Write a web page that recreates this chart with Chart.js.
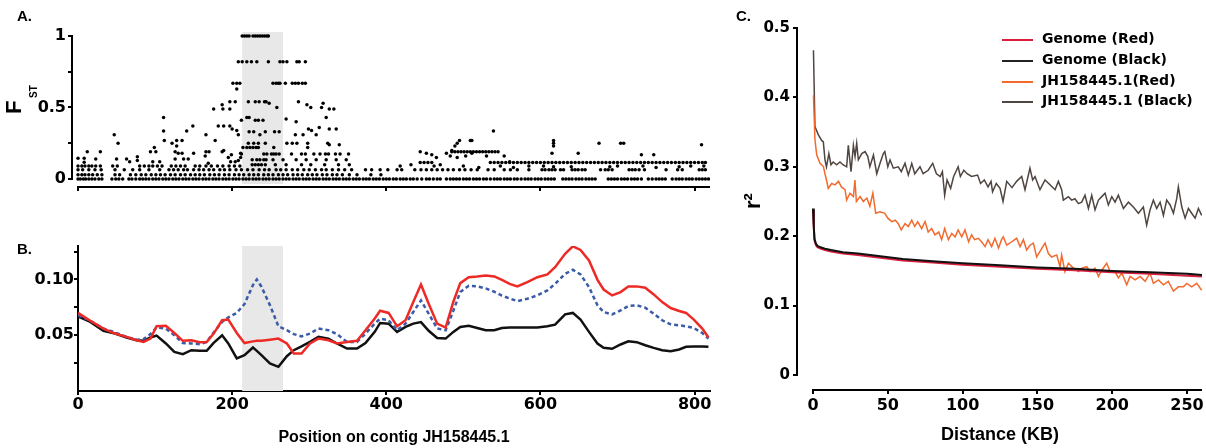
<!DOCTYPE html>
<html lang="en">
<head>
<meta charset="utf-8"/>
<title>Fst, pi and LD decay on contig JH158445.1</title>
<script src="https://cdn.jsdelivr.net/npm/chart.js@4.4.0/dist/chart.umd.min.js"></script>
<style>
  body { margin: 0; background: #fff; width: 1206px; height: 448px; position: relative; overflow: hidden; font-family: "Liberation Sans", Arial, sans-serif; }
  canvas { position: absolute; }
  #chartA { left: 0; top: 0; }
  #chartB { left: 0; top: 220px; }
  #chartC { left: 740px; top: 0; }
  .tag { position: absolute; font-weight: bold; font-size: 15px; line-height: 15px; }
  .leg { position: absolute; left: 1002px; width: 200px; height: 20px; }
  .leg i { position: absolute; left: 0; top: 9px; width: 31px; height: 2px; }
  .leg span { position: absolute; left: 40px; top: 0; line-height: 20px; white-space: nowrap; font: bold 14px "DejaVu Sans", sans-serif; }
</style>
</head>
<body>
<canvas id="chartA" width="730" height="200"></canvas>
<canvas id="chartB" width="730" height="228"></canvas>
<canvas id="chartC" width="466" height="448"></canvas>

<div class="tag" style="left:17px; top:8px">A.</div>
<div class="tag" style="left:17px; top:241px">B.</div>
<div class="tag" style="left:736px; top:8px">C.</div>

<div class="leg" style="top:30px"><i style="background:#d91f3d"></i><span>Genome (Red)</span></div>
<div class="leg" style="top:51px"><i style="background:#222"></i><span>Genome (Black)</span></div>
<div class="leg" style="top:72px"><i style="background:#f36a2d"></i><span>JH158445.1(Red)</span></div>
<div class="leg" style="top:92px"><i style="background:#4f4541"></i><span>JH158445.1 (Black)</span></div>

<script>
// ---- panel A : Fst along the contig (KB) ----
const fstZeroX = [0,3,7,10,14,18,22,27,31,44,49,53,58,66,70,75,80,84,88,92,97,101,105,110,114,118,123,127,131,136,140,144,149,153,157,162,166,170,175,179,183,188,192,196,201,205,209,214,218,222,227,231,235,240,244,248,253,257,261,266,270,274,279,283,287,292,296,300,305,309,313,318,322,326,331,335,339,344,348,352,357,361,365,370,374,378,383,387,391,396,400,404,409,413,418,422,426,431,435,440,446,452,456,461,466,470,478,483,487,491,495,500,504,508,513,517,521,526,530,535,540,544,548,553,557,561,566,570,575,580,584,588,593,597,601,606,610,614,618,629,633,637,641,646,650,654,659,663,667,671,688,692,696,700,705,709,713,718,722,726,731,740,745,750,754,758,762,771,776,780,784,789,793,797,802,806,810,814,818];
const fstLowX = [0,5,9,14,19,25,31,48,54,68,75,82,88,95,101,107,113,120,126,133,139,146,152,158,164,171,177,183,190,196,203,209,215,222,228,234,241,247,253,260,266,272,279,285,291,298,304,310,317,323,330,336,343,352,362,380,393];
const fstMidX = [0,6,14,22,30,48,60,71,80,92,106,118,124,130,137,142,150,157,163,170,176,184,190,197,205,212,220,227,235,242,248,257,263,270,278,285,293,300,308,316,322,330,338,346,355,373,381,392,402,414,420,437,445,452,459,466,473,480,487,495,502,510,518,532,540,553,561,570,585,602,606,611,615,619,626,630,641,645,649,654,658,678,684,688,693,715,719,723,728,735,763,778,784,806,810,814];
const fstNineX = [0,5,9,14,18,23,29,45,51,80,86,92,97,103,109,121,127,133,139,152,158,166,173,181,188,196,203,210];
const fstBandX = [444,449,454,459,535,540,545,550,555,560,565,570,575,580,585,590,595,600,605,610,615,620,625,630,635,640,645,650,655,660,665,670,675,680,685,690,695,700,705,710,715,720,725,730,735,740,745,750,755,760,765,770,775,780,785,790,795,800,805,810,814];
const fstBand2X = [485,489,493,497,501,505,509,513,517,521,525,529,533,537,541,545];
const fstPeak = [[111,0.43],[111,0.335],[47,0.31],[141,0.335],[149,0.37],[166,0.31],[176,0.49],[187,0.52],[188,0.49],[197,0.54],[204,0.54],[197,0.49],[182,0.37],[189,0.37],[197,0.37],[200,0.35],[206,0.34],[208,0.31],[212,0.41],
  [213,1],[216,1],[219,1],[222,1],[227,1],[230,1],[233,1],[236,1],[239,1],[242,1],[245,1],[247,1],
  [208,0.82],[213,0.82],[219,0.82],[225,0.82],[232,0.82],[247,0.82],[262,0.82],[266,0.82],[271,0.82],[284,0.82],[287,0.82],[295,0.82],
  [201,0.67],[206,0.67],[210,0.67],[253,0.67],[257,0.67],[260,0.67],[262,0.67],[269,0.67],[278,0.67],[282,0.67],[286,0.67],[291,0.67],[295,0.67],[206,0.63],
  [221,0.54],[230,0.54],[235,0.54],[242,0.54],[244,0.54],[248,0.53],[258,0.5],[286,0.54],[297,0.52],[302,0.5],[316,0.5],[318,0.53],[326,0.49],[332,0.49],
  [219,0.43],[222,0.43],[230,0.41],[234,0.41],[240,0.41],[270,0.42],[283,0.4],[322,0.43],
  [222,0.33],[228,0.33],[236,0.31],[243,0.33],[255,0.33],[261,0.33],[282,0.31],[292,0.31],[299,0.35],[303,0.34],[313,0.36],[326,0.35],[335,0.35],[309,0.31],[539,0.335]];
const fstScatter = [[112,0.27],[52,0.25],[12,0.19],[29,0.19],[0,0.145],[8,0.145],[8,0.117],[23,0.14],[50,0.14],[63,0.14],[67,0.12],[77,0.155],[77,0.13],[99,0.22],[94,0.19],[101,0.19],[97,0.12],[106,0.12],[122,0.25],[128,0.27],[135,0.27],[128,0.23],[126,0.19],[130,0.18],[135,0.18],[126,0.14],[137,0.14],[143,0.14],[150,0.18],[178,0.27],[166,0.19],[170,0.19],[165,0.16],[169,0.11],[187,0.19],[189,0.2],[195,0.15],[199,0.17],[204,0.12],[198,0.12],[211,0.18],[211,0.15],[208,0.13],
  [221,0.25],[228,0.25],[234,0.25],[243,0.25],[271,0.25],[278,0.25],[284,0.25],[298,0.25],[324,0.25],[326,0.24],[339,0.24],[254,0.22],[298,0.22],
  [214,0.22],[219,0.22],[223,0.22],[227,0.22],[231,0.22],[234,0.22],
  [212,0.175],[241,0.175],[245,0.175],[251,0.175],[254,0.175],[257,0.175],[261,0.175],[277,0.175],[290,0.175],[295,0.175],[306,0.175],[314,0.175],[321,0.175],[325,0.175],[334,0.175],[340,0.175],[351,0.175],
  [226,0.135],[232,0.135],[236,0.135],[241,0.135],[244,0.135],[253,0.135],[266,0.135],[283,0.135],[296,0.135],[309,0.135],[322,0.135],[335,0.135],[348,0.135],
  [226,0.1],[230,0.1],[234,0.1],[238,0.1],[243,0.1],[256,0.1],[270,0.1],[290,0.1],[302,0.1],[320,0.1],[338,0.1],[352,0.1],
  [509,0.27],[511,0.27],[495,0.27],[492,0.25],[489,0.23],[485,0.2],[444,0.19],[452,0.18],[459,0.17],[465,0.15],[478,0.18],[483,0.16],[492,0.15],[503,0.16],[511,0.18],[530,0.16],[553,0.16],[560,0.12],[617,0.27],[617,0.25],[617,0.23],[615,0.18],[649,0.18],[676,0.25],[704,0.25],[708,0.25],[731,0.17],[747,0.17],[809,0.24],
  [418,0.09],[432,0.1],[462,0.09],[470,0.1],[500,0.09],[520,0.08],[548,0.09],[565,0.08],[585,0.09],[604,0.09],[617,0.085],[640,0.085],[690,0.085],[700,0.09],[733,0.09],[750,0.08],[780,0.085],[795,0.09],[812,0.09]];
const fstTicks = [0, 0.25, 0.5, 0.75, 1];
const fstTickLabels = ['0', '', '0.5', '', '1'];

// ---- panel B : nucleotide diversity ----
const piX = [0,16,33,48,63,76,85,94,102,114,125,136,147,158,167,176,187,195,206,216,227,232,238,249,260,271,280,290,301,312,325,336,349,362,373,385,392,403,414,425,435,445,455,466,477,487,496,507,518,529,540,550,560,570,583,596,609,619,632,642,652,663,674,682,693,704,714,725,736,747,758,769,780,789,799,810,818];
const piRed = [0.070,0.063,0.056,0.0515,0.0485,0.0455,0.044,0.047,0.058,0.0585,0.052,0.045,0.0455,0.0438,0.044,0.0515,0.0634,0.064,0.052,0.043,0.0445,0.045,0.045,0.046,0.047,0.0426,0.0336,0.0336,0.0426,0.047,0.0455,0.0426,0.044,0.045,0.0545,0.065,0.072,0.070,0.058,0.0634,0.0797,0.0955,0.0783,0.0604,0.0569,0.080,0.0967,0.102,0.1027,0.1036,0.1027,0.0997,0.096,0.0938,0.0976,0.102,0.1045,0.111,0.123,0.1297,0.1265,0.117,0.0997,0.091,0.0857,0.0887,0.0938,0.0938,0.0926,0.0866,0.0797,0.0744,0.0717,0.070,0.064,0.056,0.048];
const piAll = [0.068,0.063,0.056,0.0525,0.0485,0.046,0.0465,0.051,0.057,0.056,0.050,0.043,0.0426,0.042,0.044,0.0525,0.062,0.066,0.070,0.078,0.095,0.100,0.0935,0.077,0.058,0.0545,0.051,0.049,0.0515,0.056,0.0545,0.051,0.044,0.044,0.0515,0.0604,0.0649,0.0634,0.0545,0.0604,0.0708,0.0812,0.0693,0.056,0.0545,0.072,0.0887,0.0944,0.0938,0.092,0.089,0.0855,0.083,0.0806,0.0827,0.0857,0.0902,0.0961,0.105,0.1087,0.1045,0.0932,0.0768,0.0708,0.0687,0.0723,0.0762,0.0768,0.0747,0.0693,0.0634,0.0598,0.0589,0.058,0.0565,0.052,0.047];
const piBlack = [0.067,0.062,0.054,0.0515,0.048,0.0455,0.045,0.048,0.0497,0.0426,0.0351,0.033,0.0366,0.036,0.036,0.0432,0.050,0.0426,0.0292,0.0321,0.039,0.036,0.0321,0.0247,0.0217,0.0312,0.0366,0.040,0.044,0.0485,0.047,0.0426,0.038,0.038,0.043,0.053,0.061,0.0604,0.053,0.0574,0.0604,0.0618,0.054,0.0475,0.047,0.053,0.0574,0.0584,0.0565,0.0545,0.0545,0.0565,0.057,0.057,0.057,0.057,0.058,0.0595,0.0687,0.070,0.064,0.053,0.0426,0.0387,0.0378,0.0417,0.0446,0.0438,0.041,0.0387,0.0366,0.0357,0.0372,0.0396,0.040,0.040,0.0396];
const posTicks = [0, 200, 400, 600, 800];
const piTicks = [0.025, 0.05, 0.075, 0.1, 0.125];
const piTickLabels = ['', '0.05', '', '0.10', ''];
const sweepStart = 213, sweepEnd = 266;

// ---- panel C : LD decay ----
const genomeKB = [0,0.5,1,2,3,5,8,12,20,30,45,60,80,100,125,150,175,200,225,250,260];
const genomeBlackR2 = [0.24,0.215,0.196,0.189,0.186,0.184,0.182,0.180,0.177,0.175,0.171,0.167,0.164,0.161,0.158,0.155,0.153,0.150,0.148,0.146,0.144];
const genomeRedR2 = [0.238,0.213,0.194,0.187,0.184,0.182,0.180,0.178,0.175,0.173,0.169,0.165,0.162,0.159,0.156,0.153,0.151,0.148,0.146,0.143,0.142];
const jhBlackKB = [0.3,1.3,3.6,5.8,6.9,8,9,10.6,12,13.5,15.8,18,20,22.5,23.6,25.4,27,28.1,29.2,30.3,32.6,34.8,36.6,38,40.4,42.6,44.8,47,48,50,51.5,53.7,57,59,61.5,63.7,66,68,71.5,73.6,77,80,82.5,85,86.5,88,89.6,92,94,97,98.5,100.8,103,106,110,112,114.5,117,119,120,122.5,125,127,129.5,133,136.1,139.5,141.7,145,146.8,148.4,151.7,155.1,158.4,161.8,164,166.2,167.3,170.7,172.9,175.1,177.4,179.6,181.8,184.1,186.3,188.5,190.8,193,195.2,197.4,199.7,201.9,204.1,207.5,210.8,214.1,217.5,220.8,223,225.3,227.5,229.7,232,234.2,236.4,238.7,240.9,243.1,244.2,246.5,248.7,250.9,253.1,255.4,257.6,259.8];
const jhBlackR2 = [0.468,0.358,0.346,0.338,0.336,0.31,0.30,0.319,0.303,0.307,0.303,0.307,0.303,0.30,0.331,0.293,0.331,0.315,0.334,0.31,0.319,0.322,0.315,0.30,0.317,0.29,0.305,0.319,0.322,0.30,0.31,0.298,0.30,0.293,0.305,0.288,0.305,0.29,0.30,0.29,0.295,0.305,0.29,0.286,0.293,0.259,0.281,0.269,0.286,0.30,0.286,0.295,0.29,0.286,0.288,0.276,0.281,0.271,0.279,0.264,0.276,0.269,0.25,0.279,0.27,0.279,0.286,0.267,0.298,0.281,0.286,0.267,0.281,0.274,0.267,0.279,0.267,0.252,0.257,0.252,0.254,0.247,0.249,0.259,0.24,0.259,0.238,0.252,0.257,0.262,0.245,0.257,0.249,0.259,0.24,0.249,0.242,0.233,0.242,0.216,0.238,0.252,0.24,0.249,0.23,0.252,0.245,0.233,0.254,0.271,0.242,0.226,0.24,0.233,0.226,0.24,0.23];
const jhRedKB = [0.3,1.3,2.5,4.7,7,8,9,10.2,12.5,14.7,17,19,21.4,22.5,24.7,27,28,29,31.5,33.6,36,38,40,41.9,44.8,48,50,52.6,55,57,59,61.5,63.7,66,68,70,72.6,74.9,77,79.3,81.5,84,86,88,90.5,92.7,95,97,99.4,101.6,104,106,108,110.5,112.7,115,117,119.4,121.6,124,126,127.2,129.5,132.8,136.1,138.4,140.6,142.8,145,147.3,149.5,151.7,155.1,157.3,159.5,162.9,165.1,166.2,168.4,170.7,174,177.4,179.6,183,185.2,188.5,190.8,193,196.3,198.6,201.9,204.1,206.4,209.7,211.9,215.3,218.6,222,225.3,227.5,230.9,234.2,237.5,240.9,244.2,247.6,249.8,253.1,256.5,259.8];
const jhRedR2 = [0.403,0.339,0.317,0.305,0.30,0.29,0.281,0.269,0.276,0.274,0.279,0.271,0.267,0.252,0.262,0.257,0.281,0.25,0.257,0.25,0.255,0.243,0.262,0.233,0.235,0.233,0.226,0.221,0.223,0.218,0.209,0.218,0.214,0.223,0.214,0.221,0.211,0.221,0.206,0.211,0.202,0.206,0.195,0.211,0.195,0.204,0.199,0.209,0.199,0.209,0.192,0.202,0.195,0.197,0.192,0.185,0.195,0.185,0.197,0.183,0.195,0.199,0.187,0.192,0.197,0.185,0.195,0.18,0.187,0.19,0.17,0.178,0.19,0.175,0.17,0.173,0.156,0.173,0.149,0.161,0.154,0.149,0.154,0.156,0.149,0.154,0.142,0.151,0.161,0.149,0.149,0.14,0.147,0.13,0.142,0.137,0.142,0.135,0.147,0.132,0.137,0.13,0.135,0.121,0.127,0.127,0.132,0.127,0.132,0.122];
const distTicks = [0, 50, 100, 150, 200, 250];
const r2Ticks = [0, 0.1, 0.2, 0.3, 0.4, 0.5];

// ---- helpers ----
Chart.defaults.color = '#000';
const tickFont = size => ({ family: 'DejaVu Sans', size: size, weight: 'bold' });
const setTicks = vals => scale => { scale.ticks = vals.map(v => ({ value: v })); };
const tickGrid = len => ({ drawOnChartArea: false, drawTicks: true, tickLength: len, lineWidth: 2, color: '#000' });

function makeShade(from, to, insetBottom) {
  return {
    id: 'shade',
    beforeDatasetsDraw(chart) {
      const { ctx, chartArea } = chart;
      const x = chart.scales.x;
      const x0 = x.getPixelForValue(from), x1 = x.getPixelForValue(to);
      ctx.save();
      ctx.fillStyle = '#e8e8e8';
      ctx.fillRect(x0, chartArea.top, x1 - x0, chartArea.bottom - chartArea.top - insetBottom);
      ctx.restore();
    }
  };
}

// Prism style axes that do not meet at the corner
function makeAxes(yFrom, yTo, xFrom, xTo) {
  return {
    id: 'axes',
    afterDraw(chart) {
      const { ctx, chartArea } = chart;
      const x = chart.scales.x, y = chart.scales.y;
      ctx.save();
      ctx.strokeStyle = '#000';
      ctx.lineWidth = 2;
      ctx.beginPath();
      ctx.moveTo(chartArea.left - 1, y.getPixelForValue(yFrom));
      ctx.lineTo(chartArea.left - 1, y.getPixelForValue(yTo));
      ctx.moveTo(x.getPixelForValue(xFrom), chartArea.bottom + 1);
      ctx.lineTo(x.getPixelForValue(xTo), chartArea.bottom + 1);
      ctx.stroke();
      ctx.restore();
    }
  };
}

// rotated y titles; u runs up the page, v is the baseline distance from the left edge
function makeSideTitle(parts) {
  return {
    id: 'sideTitle',
    afterDraw(chart) {
      const ctx = chart.ctx;
      ctx.save();
      ctx.rotate(-Math.PI / 2);
      ctx.fillStyle = '#000';
      ctx.textBaseline = 'alphabetic';
      parts.forEach(p => {
        ctx.font = p.font;
        ctx.textAlign = p.align || 'left';
        ctx.fillText(p.text, p.u, p.v);
      });
      ctx.restore();
    }
  };
}

const dots = pts => ({ data: pts, pointRadius: 1.75, pointBackgroundColor: '#000', pointBorderWidth: 0, showLine: false });
const atLevel = (xs, f) => xs.map(x => ({ x: x, y: f }));
const pairs = arr => arr.map(p => ({ x: p[0], y: p[1] }));
const xy = (xs, ys) => xs.map((x, i) => ({ x: x, y: ys[i] }));

// ---- A ----
new Chart(document.getElementById('chartA'), {
  type: 'scatter',
  data: {
    datasets: [
      dots(atLevel(fstZeroX, 0)),
      dots(atLevel(fstLowX, 0.03)),
      dots(atLevel(fstMidX, 0.065)),
      dots(atLevel(fstNineX, 0.09)),
      dots(atLevel(fstBandX, 0.115)),
      dots(atLevel(fstBand2X, 0.19)),
      dots(pairs(fstScatter)),
      dots(pairs(fstPeak))
    ]
  },
  options: {
    responsive: false, animation: false, events: [],
    layout: { padding: { left: 0, right: 20, top: 32, bottom: 0 } },
    plugins: { legend: { display: false }, tooltip: { enabled: false } },
    scales: {
      x: {
        type: 'linear', min: -6.5, max: 820,
        afterBuildTicks: setTicks(posTicks),
        afterFit: s => { s.height = 14; },
        ticks: { autoSkip: false, callback: () => '', font: tickFont(10) },
        grid: tickGrid(5), border: { display: false }
      },
      y: {
        min: -0.049, max: 1.028,
        afterBuildTicks: setTicks(fstTicks),
        afterFit: s => { s.width = 73; },
        ticks: { autoSkip: false, padding: 2, font: tickFont(16), callback: (v, i) => fstTickLabels[i] },
        grid: tickGrid(5), border: { display: false }
      }
    }
  },
  plugins: [
    makeShade(sweepStart, sweepEnd, 2),
    makeAxes(-0.006, 1, -1, 820),
    makeSideTitle([
      { text: 'F', font: 'bold 22px "Liberation Sans", Arial', u: -114, v: 21 },
      { text: 'ST', font: 'bold 10px "Liberation Sans", Arial', u: -98, v: 37 }
    ])
  ]
});

// ---- B ----
new Chart(document.getElementById('chartB'), {
  type: 'line',
  data: {
    datasets: [
      { data: xy(piX, piRed), borderColor: '#ee2a26', borderWidth: 2.5, pointRadius: 0, tension: 0 },
      { data: xy(piX, piAll), borderColor: '#3a5ca8', borderWidth: 2.5, borderDash: [4, 3], pointRadius: 0, tension: 0 },
      { data: xy(piX, piBlack), borderColor: '#111', borderWidth: 2.5, pointRadius: 0, tension: 0 }
    ]
  },
  options: {
    responsive: false, animation: false, events: [],
    layout: { padding: { left: 0, right: 20, top: 26, bottom: 0 } },
    plugins: { legend: { display: false }, tooltip: { enabled: false } },
    scales: {
      x: {
        type: 'linear', min: 0, max: 820,
        afterBuildTicks: setTicks(posTicks),
        afterFit: s => { s.height = 57; },
        ticks: { autoSkip: false, padding: 0, font: tickFont(16), callback: v => String(v) },
        grid: tickGrid(4), border: { display: true, width: 2, color: '#000' },
        title: { display: true, text: 'Position on contig JH158445.1', font: { family: 'Liberation Sans', size: 16, weight: 'bold' }, padding: { top: 0, bottom: 1 } }
      },
      y: {
        min: 0, max: 0.13,
        afterBuildTicks: setTicks(piTicks),
        afterFit: s => { s.width = 78; },
        ticks: { autoSkip: false, padding: 0, font: tickFont(16), callback: (v, i) => piTickLabels[i] },
        grid: tickGrid(4), border: { display: true, width: 2, color: '#000' }
      }
    }
  },
  plugins: [
    makeShade(sweepStart, sweepEnd, 0),
    makeSideTitle([{ text: 'π', font: 'bold 20px "Liberation Sans", Arial', u: -311, v: 25, align: 'center' }])
  ]
});

// ---- C ----
new Chart(document.getElementById('chartC'), {
  type: 'line',
  data: {
    datasets: [
      { label: 'Genome (Black)', data: xy(genomeKB, genomeBlackR2), borderColor: '#111', borderWidth: 2, pointRadius: 0, tension: 0 },
      { label: 'Genome (Red)', data: xy(genomeKB, genomeRedR2), borderColor: '#d91f3d', borderWidth: 2, pointRadius: 0, tension: 0 },
      { label: 'JH158445.1(Red)', data: xy(jhRedKB, jhRedR2), borderColor: '#f36a2d', borderWidth: 1.5, pointRadius: 0, tension: 0 },
      { label: 'JH158445.1 (Black)', data: xy(jhBlackKB, jhBlackR2), borderColor: '#4f4541', borderWidth: 1.5, pointRadius: 0, tension: 0 }
    ]
  },
  options: {
    responsive: false, animation: false, events: [],
    layout: { padding: { left: 0, right: 4, top: 28, bottom: 0 } },
    plugins: { legend: { display: false }, tooltip: { enabled: false } },
    scales: {
      x: {
        type: 'linear', min: -10.03, max: 260,
        afterBuildTicks: setTicks(distTicks),
        afterFit: s => { s.height = 59; },
        ticks: { autoSkip: false, padding: 2, font: tickFont(16), callback: v => String(v) },
        grid: tickGrid(5), border: { display: false },
        title: { display: true, text: 'Distance (KB)', font: { family: 'Liberation Sans', size: 18, weight: 'bold' }, padding: { top: 0, bottom: 2 } }
      },
      y: {
        min: -0.0202, max: 0.5,
        afterBuildTicks: setTicks(r2Ticks),
        afterFit: s => { s.width = 58; },
        ticks: { autoSkip: false, padding: 3, font: tickFont(15), callback: v => (v === 0 ? '0' : v.toFixed(1)) },
        grid: tickGrid(5), border: { display: false }
      }
    }
  },
  plugins: [
    makeAxes(0, 0.5, 0, 260),
    makeSideTitle([{ text: 'r²', font: 'bold 22px "Liberation Sans", Arial', u: -201, v: 20, align: 'center' }])
  ]
});
</script>
</body>
</html>
